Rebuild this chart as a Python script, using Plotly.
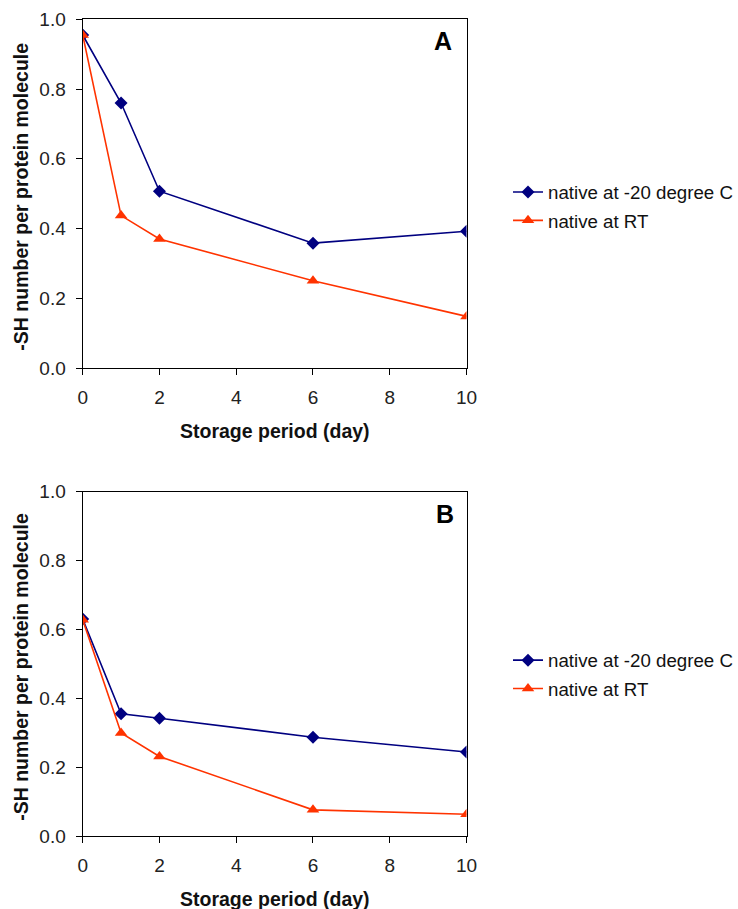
import plotly.graph_objects as go

days = [0, 1, 2, 6, 10]
a_frozen = [0.955, 0.760, 0.507, 0.358, 0.392]
a_rt = [0.955, 0.437, 0.370, 0.250, 0.148]
b_frozen = [0.630, 0.355, 0.342, 0.287, 0.244]
b_rt = [0.628, 0.299, 0.231, 0.076, 0.063]

name_frozen = "native at -20 degree C"
name_rt = "native at RT"
x_ticks = [0, 2, 4, 6, 8, 10]
y_ticks = [0.0, 0.2, 0.4, 0.6, 0.8, 1.0]
y_tick_text = ["0.0", "0.2", "0.4", "0.6", "0.8", "1.0"]

BLUE = "#000080"
RED = "#ff3300"
W, H = 738, 909
FONT = "Liberation Sans, Arial, sans-serif"


def px(x):
    return x / W


def py(y):
    return 1 - y / H


fig = go.Figure()


def add_pair(xa, ya, frozen, rt, legend):
    fig.add_trace(go.Scatter(
        x=days, y=frozen, name=name_frozen, mode="lines+markers",
        line=dict(color=BLUE, width=1.6),
        marker=dict(symbol="diamond", size=10, color=BLUE),
        xaxis=xa, yaxis=ya, legend=legend, legendgroup=legend + "f"))
    fig.add_trace(go.Scatter(
        x=days, y=rt, name=name_rt, mode="lines+markers",
        line=dict(color=RED, width=1.6),
        marker=dict(symbol="triangle-up", size=11, color=RED),
        xaxis=xa, yaxis=ya, legend=legend, legendgroup=legend + "r"))


add_pair("x", "y", a_frozen, a_rt, "legend")
add_pair("x2", "y2", b_frozen, b_rt, "legend2")

xdom = [px(82.7), px(466.5)]
ydomA = [py(368.0), py(19.3)]
ydomB = [py(836.0), py(491.7)]

axis_common = dict(
    showgrid=False, zeroline=False, showline=True, linecolor="black",
    linewidth=1.3, mirror=True, ticks="outside", ticklen=6, tickwidth=1.3,
    tickcolor="black", tickfont=dict(family=FONT, size=19, color="#222"),
    automargin=False,
)

xa = dict(axis_common, range=[0, 10], tickvals=x_ticks, domain=xdom,
          ticklabelstandoff=6)
ya = dict(axis_common, range=[0, 1.0], tickvals=y_ticks, ticktext=y_tick_text,
          ticklabelstandoff=6)

legend_common = dict(
    font=dict(family=FONT, size=18.7, color="#111"), bgcolor="rgba(0,0,0,0)",
    borderwidth=0, tracegroupgap=1, traceorder="grouped",
    xanchor="left", yanchor="middle", itemwidth=30,
)

fig.update_layout(
    width=W, height=H,
    margin=dict(l=0, r=0, t=0, b=0, autoexpand=False),
    paper_bgcolor="white", plot_bgcolor="white",
    showlegend=True,
    xaxis=dict(xa, anchor="y"),
    yaxis=dict(ya, domain=ydomA, anchor="x"),
    xaxis2=dict(xa, anchor="y2"),
    yaxis2=dict(ya, domain=ydomB, anchor="x2"),
    legend=dict(legend_common, x=px(508), y=py(206.4)),
    legend2=dict(legend_common, x=px(508), y=py(674.5)),
)

title_font = dict(family=FONT, size=19.5, color="#111")
xc = (xdom[0] + xdom[1]) / 2
for ydom, xt_y in [(ydomA, 430.7), (ydomB, 898.5)]:
    fig.add_annotation(text="<b>Storage period (day)</b>", xref="paper", yref="paper",
                       x=xc, y=py(xt_y), showarrow=False, font=title_font,
                       xanchor="center", yanchor="middle")
    fig.add_annotation(text="<b>-SH number per protein molecule</b>", xref="paper",
                       yref="paper", x=px(21), y=(ydom[0] + ydom[1]) / 2 - 3 / H,
                       showarrow=False, font=title_font, textangle=-90,
                       xanchor="center", yanchor="middle")

for lab, xr, yr, lx, ly in [("A", "x", "y domain", 9.38, 0.939),
                            ("B", "x2", "y2 domain", 9.44, 0.934)]:
    fig.add_annotation(text="<b>" + lab + "</b>", xref=xr, yref=yr, x=lx, y=ly,
                       showarrow=False, font=dict(family=FONT, size=25, color="black"),
                       xanchor="center", yanchor="middle")

fig.write_html(
    "out.html",
    config={"displayModeBar": False},
    post_script="document.body.style.margin='0px';document.body.style.overflow='hidden';",
)
